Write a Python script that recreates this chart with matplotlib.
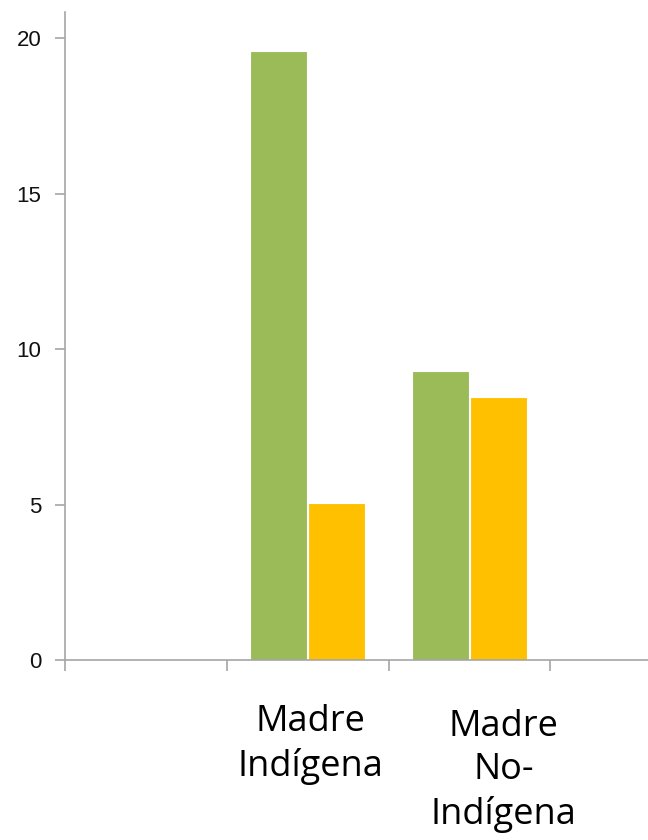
import matplotlib
matplotlib.use("Agg")
import matplotlib.pyplot as plt
import numpy as np

groups = ["", "Madre\nIndígena", "Madre\nNo-\nIndígena", ""]
serie_verde = [0, 19.6, 9.3, 0]
serie_amarilla = [0, 5.05, 8.45, 0]
yticks = [0, 5, 10, 15, 20]

fig = plt.figure(figsize=(6.48, 8.40), dpi=100)
ax = fig.add_axes([65 / 648, 180 / 840, 647 / 648, 648 / 840])

x = np.arange(len(groups)) + 0.5
w = 0.352
ax.bar(x - w / 2 - 0.004, serie_verde, width=w, color="#9BBB59", edgecolor="white", linewidth=0.8)
ax.bar(x + w / 2 + 0.004, serie_amarilla, width=w, color="#FFC000", edgecolor="white", linewidth=0.8)

ax.set_xlim(0, 4)
ax.set_ylim(0, 20.84)
ax.set_yticks(yticks)
ax.set_yticklabels([str(t) for t in yticks], fontsize=16, family="Liberation Sans", color="#111111")
ax.set_xticks(range(len(groups) + 1))
ax.set_xticklabels([])
for s in ["top", "right"]:
    ax.spines[s].set_visible(False)
for s in ["left", "bottom"]:
    ax.spines[s].set_color("#a6a6a6")
    ax.spines[s].set_linewidth(1.2)
ax.tick_params(axis="y", length=7, color="#a6a6a6", width=1.2, pad=10)
ax.tick_params(axis="x", length=8, color="#a6a6a6", width=1.2)

# etiquetas de grupo, un poco desplazadas como en el original
offsets = [0, 0.015, 0.21, 0]
drop = [0, 1.42, 1.58, 0]
for i, g in enumerate(groups):
    if g:
        ax.text(x[i] + offsets[i], -drop[i], g, ha="center", va="top", fontsize=26,
                family="Open Sans", linespacing=1.27, color="black")

fig.savefig("out.png", dpi=100)
